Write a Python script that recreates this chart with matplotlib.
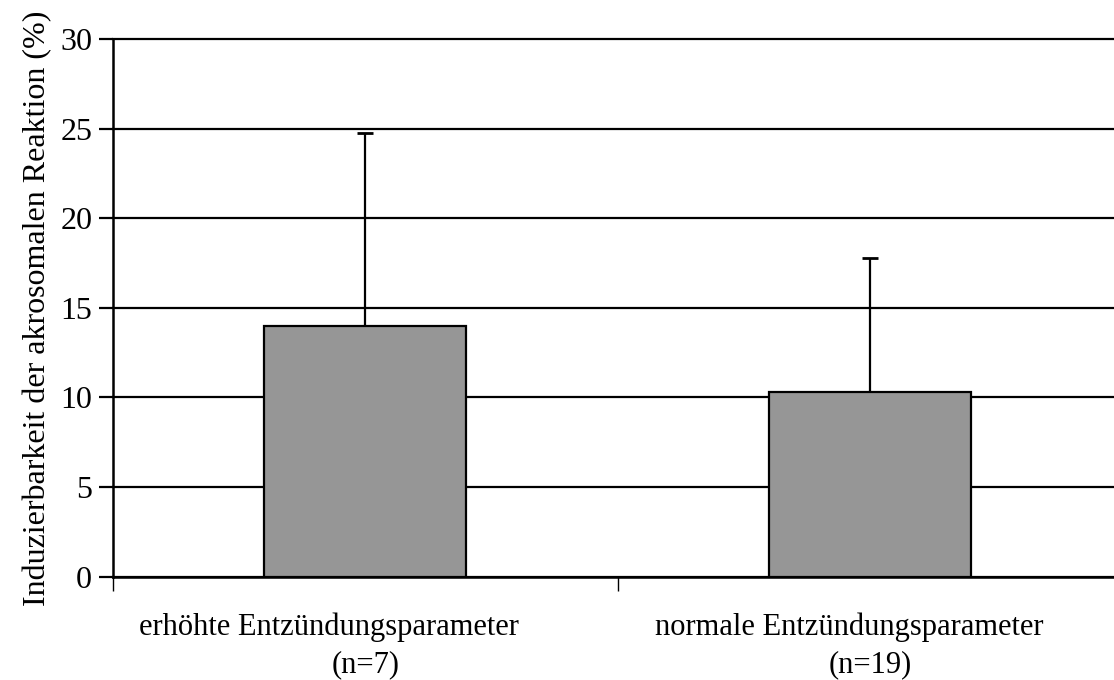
import matplotlib.pyplot as plt

plt.rcParams["font.family"] = ["Liberation Serif", "DejaVu Serif"]

groups = ["erhöhte Entzündungsparameter", "normale Entzündungsparameter"]
n_labels = ["(n=7)", "(n=19)"]
means = [14.0, 10.3]
sd = [10.75, 7.5]
y_ticks = [0, 5, 10, 15, 20, 25, 30]

# horizontal nudge (pixels) of the first label line
line1_shift = [-37, -21]

fig = plt.figure(figsize=(11.14, 6.8), dpi=100)
# axis runs past the right edge of the canvas
ax = fig.add_axes([0.1014, 0.152, 0.9066, 0.7905])

x = list(range(len(groups)))
ax.bar(x, means, width=0.4, color="#969696", edgecolor="black",
       linewidth=1.6, zorder=3)
ax.errorbar(x, means, yerr=[[0] * len(sd), sd], fmt="none", ecolor="black",
            elinewidth=1.6, capsize=6, capthick=2, zorder=2)

ax.set_xlim(-0.5, 1.5)
ax.set_ylim(0, 30)
ax.set_yticks(y_ticks)
ax.set_yticklabels([str(t) for t in y_ticks], fontsize=23)
ax.yaxis.grid(True, color="black", linewidth=1.6, zorder=0)
ax.set_axisbelow(True)
for gl in ax.get_ygridlines():
    gl.set_clip_on(False)

# boundary ticks between categories
ax.set_xticks([-0.5, 0.5, 1.5])
ax.set_xticklabels([])
ax.tick_params(axis="x", length=10, width=1.0, direction="out")
ax.tick_params(axis="y", length=10, width=1.6, pad=5)

# two-line category labels under each bar
for xi, name, n, dx in zip(x, groups, n_labels, line1_shift):
    ax.annotate(name, xy=(xi, 0), xycoords=("data", "axes fraction"),
                xytext=(dx, -51), textcoords="offset pixels",
                ha="center", va="center", fontsize=22)
    ax.annotate(n, xy=(xi, 0), xycoords=("data", "axes fraction"),
                xytext=(0, -88), textcoords="offset pixels",
                ha="center", va="center", fontsize=22)

for side in ["top", "right"]:
    ax.spines[side].set_visible(False)
ax.spines["left"].set_linewidth(1.8)
ax.spines["bottom"].set_linewidth(1.8)

ax.set_ylabel("Induzierbarkeit der akrosomalen Reaktion (%)", fontsize=23,
              labelpad=6)

plt.savefig("out.png", dpi=100)
